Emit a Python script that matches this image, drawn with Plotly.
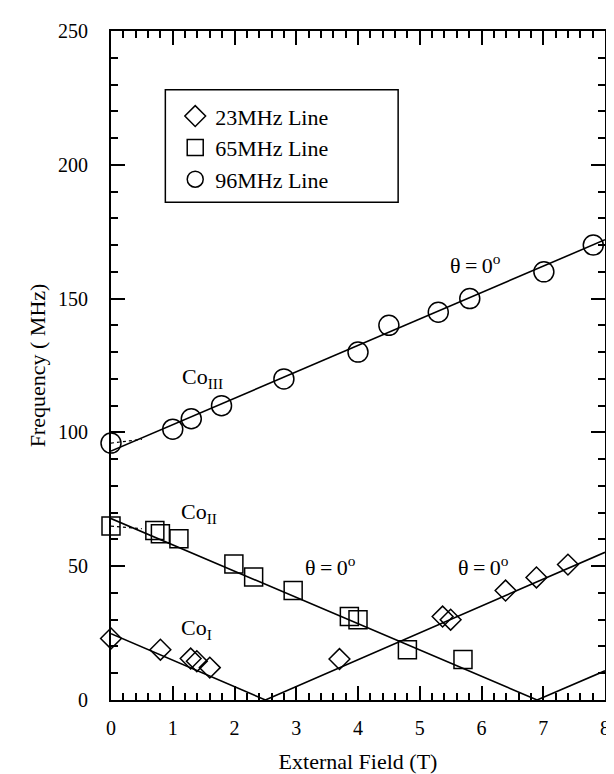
import plotly.graph_objects as go

# ---- data ----
d23_x = [0.0, 0.80, 1.29, 1.39, 1.60, 3.70, 5.37, 5.50, 6.39, 6.89, 7.40]
d23_y = [23.0, 18.8, 15.5, 14.5, 12.1, 15.3, 31.2, 30.0, 40.9, 45.8, 50.6]

d65_x = [0.0, 0.71, 0.80, 1.10, 1.99, 2.31, 2.95, 3.86, 4.00, 4.80, 5.70]
d65_y = [65.0, 63.3, 62.1, 60.3, 50.8, 46.0, 40.9, 31.2, 30.0, 18.8, 15.1]

d96_x = [0.0, 1.00, 1.30, 1.79, 2.80, 4.00, 4.50, 5.30, 5.81, 7.01, 7.81]
d96_y = [96.0, 101.2, 105.1, 110.0, 120.0, 130.0, 140.0, 144.9, 150.0, 160.0, 170.0]

# fitted lines (theta = 0)
coI_x = [0.0, 2.50, 8.0]
coI_y = [24.8, 0.0, 55.2]
coII_x = [0.0, 6.90, 8.0]
coII_y = [67.8, 0.0, 10.9]
coIII_x = [0.0, 8.0]
coIII_y = [93.0, 172.0]

# dotted low-field connectors
dot65_x = [0.0, 0.5]
dot65_y = [65.0, 64.0]
dot96_x = [0.0, 0.5]
dot96_y = [96.0, 97.4]

series_names = ["23MHz Line", "65MHz Line", "96MHz Line"]

FONT = "Liberation Serif"
fig = go.Figure()

line_style = dict(color="black", width=1.6)
for lx, ly in [(coI_x, coI_y), (coII_x, coII_y), (coIII_x, coIII_y)]:
    fig.add_trace(go.Scatter(x=lx, y=ly, mode="lines", line=line_style,
                             showlegend=False, hoverinfo="skip"))
for lx, ly in [(dot65_x, dot65_y), (dot96_x, dot96_y)]:
    fig.add_trace(go.Scatter(x=lx, y=ly, mode="lines",
                             line=dict(color="black", width=1.2, dash="dot"),
                             showlegend=False, hoverinfo="skip"))

marker_specs = [
    (d23_x, d23_y, "diamond-open", 16, "g1"),
    (d65_x, d65_y, "square-open", 18, "g2"),
    (d96_x, d96_y, "circle-open", 20, "g3"),
]
for (mx, my, sym, sz, grp), name in zip(marker_specs, series_names):
    fig.add_trace(go.Scatter(
        x=mx, y=my, mode="markers", name=name, legendgroup=grp,
        marker=dict(symbol=sym, size=sz, color="black",
                    line=dict(color="black", width=1.5)),
        cliponaxis=False))

axis_common = dict(
    showline=True, linecolor="black", linewidth=2, mirror="allticks",
    ticks="inside", ticklen=14, tickwidth=1.5, tickcolor="black",
    showgrid=False, zeroline=False,
    tickfont=dict(family=FONT, size=20, color="black"),
)

fig.update_xaxes(range=[0, 8], dtick=1, tick0=0,
                 minor=dict(dtick=0.2, ticks="inside", ticklen=7,
                            tickwidth=1.5, tickcolor="black", showgrid=False),
                 title=dict(text="External Field (T)",
                            font=dict(family=FONT, size=22, color="black"),
                            standoff=16),
                 ticklabelstandoff=9,
                 **axis_common)
fig.update_yaxes(range=[0, 250], dtick=50, tick0=0,
                 minor=dict(dtick=10, ticks="inside", ticklen=7,
                            tickwidth=1.5, tickcolor="black", showgrid=False),
                 title=dict(text="Frequency ( MHz)",
                            font=dict(family=FONT, size=22, color="black"),
                            standoff=6),
                 ticklabelstandoff=17,
                 **axis_common)

ann_font = dict(family=FONT, size=22, color="black")
theta = "θ\u2009=\u20090<sup>o</sup>"
annotations = [
    dict(x=5.9, y=163, text=theta),
    dict(x=3.56, y=50, text=theta),
    dict(x=6.04, y=50, text=theta),
    dict(x=1.48, y=120.5, text="Co<sub>III</sub>"),
    dict(x=1.43, y=70, text="Co<sub>II</sub>"),
    dict(x=1.39, y=26.5, text="Co<sub>I</sub>"),
]
for a in annotations:
    fig.add_annotation(xref="x", yref="y", showarrow=False, font=ann_font, **a)

# legend frame
fig.add_shape(type="rect", xref="x", yref="y", x0=0.88, x1=4.65, y0=186, y1=228,
              line=dict(color="black", width=1.5), fillcolor="rgba(0,0,0,0)")

fig.update_layout(
    width=614, height=774,
    margin=dict(l=103, r=12, t=14, b=75),
    paper_bgcolor="white", plot_bgcolor="white",
    font=dict(family=FONT, color="black"),
    showlegend=True,
    legend=dict(x=0.130, y=0.904, xanchor="left", yanchor="top",
                bgcolor="rgba(0,0,0,0)", borderwidth=0,
                font=dict(family=FONT, size=22, color="black"),
                traceorder="grouped", tracegroupgap=0),
)

fig.write_html("out.html")
